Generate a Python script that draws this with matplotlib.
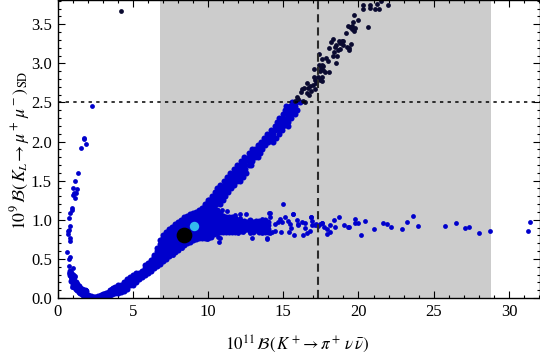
import matplotlib
matplotlib.use("Agg")
import matplotlib.pyplot as plt
from matplotlib.ticker import MultipleLocator, FormatStrFormatter

plt.rcParams['font.family'] = ['Liberation Serif', 'DejaVu Serif']
plt.rcParams['mathtext.fontset'] = 'stix'

# scattered points on the left arm of the curve
arm_x = [2.29,1.76,1.76,1.54,1.89,1.36,1.16,1.03,1.30,1.10,1.20,1.03,1.16,0.96,0.94,0.83,0.76,0.83,0.76,0.68,0.70,0.83,0.83,0.63,0.81,0.76,0.76,1.03,0.81,0.76,0.83,0.88,0.94,1.16,1.05,1.16,0.99,1.27,1.38,1.89]
arm_y = [2.455,2.05,2.03,1.92,1.97,1.60,1.50,1.41,1.39,1.34,1.34,1.32,1.28,1.15,1.125,1.09,1.02,0.92,0.87,0.86,0.82,0.77,0.73,0.59,0.52,0.50,0.41,0.38,0.34,0.315,0.29,0.25,0.21,0.28,0.25,0.21,0.144,0.144,0.10,0.10]

# dense band read as columns: x value and the y values found at it
col_x = [0.8,0.9,1.0,1.1,1.2,1.3,1.4,1.5,1.6,1.7,1.8,1.9,2.0,2.1,2.2,2.3,2.4,2.5,2.6,2.7,2.8,2.9,3.0,3.1,3.2,3.3,3.4,3.5,3.6,3.7,3.8,3.9,4.0,4.2,4.4,4.6,4.8,5.0,5.2,5.4,5.6,5.8,6.0,6.2,6.4,6.6,6.8]
col_y = [[.30,.34],[.22,.28,.32],[.16,.20,.25,.30],[.14,.18,.22,.27],[.12,.16,.20],[.10,.14,.18],[.08,.12,.15],[.07,.10,.13],[.05,.08,.11],[.04,.07,.10],[.03,.06,.10],[.02,.05,.09],[.01,.04],[.005,.03],[0,.02],[0,.015],[0,.01],[0,.01],[0,.015],[.005,.02],[.01,.03],[.015,.04],[.02,.05],[.02,.05],[.03,.06],[.03,.06],[.04,.08],[.04,.07,.10],[.05,.08,.12],[.06,.10,.13],[.07,.11,.14],[.08,.12],[.06,.10,.13,.16],[.08,.12,.16],[.09,.14,.18,.21],[.12,.17,.21,.24],[.16,.20,.24,.27],[.17,.22,.26,.30],[.20,.25,.29,.32],[.24,.28,.32],[.27,.31,.35],[.30,.34,.38,.42],[.32,.37,.41,.45],[.35,.40,.44,.48],[.38,.42,.47,.52,.55],[.41,.45,.50,.55,.60,.64],[.44,.49,.54,.59,.64,.69,.74]]

wide_x = [7.0,7.2,7.4,7.6,7.8,8.0,8.2,8.4,8.6,8.8,9.0,9.2,9.4,9.6,9.8,10.0,10.2,10.4,10.6,10.8,11.0,11.2,11.4,11.6,11.8]
wide_y = [
 [.47,.52,.57,.62,.67,.72,.77,.80],
 [.50,.55,.60,.65,.70,.75,.80,.85],
 [.54,.59,.64,.69,.74,.79,.84,.88],
 [.56,.62,.67,.72,.77,.82,.87,.91],
 [.59,.64,.69,.74,.79,.84,.89,.94],
 [.62,.67,.72,.77,.82,.87,.92,.97],
 [.65,.70,.75,.80,.85,.90,.95,1.0],
 [.68,.73,.78,.83,.88,.93,.98,1.03],
 [.70,.75,.80,.85,.90,.95,1.0,1.05],
 [.72,.77,.82,.87,.92,.97,1.02,1.07],
 [.74,.79,.84,.89,.94,.99,1.04,1.09],
 [.75,.80,.85,.90,.95,1.0,1.05,1.10],
 [.77,.82,.87,.92,.97,1.02,1.07,1.12],
 [.77,.82,.87,.92,.97,1.02,1.07,1.12,1.15],
 [.77,.82,.87,.92,.97,1.02,1.07,1.12,1.17,1.20],
 [.77,.82,.87,.92,.97,1.02,1.07,1.12,1.17,1.22,1.25],
 [.78,.83,.88,.93,.98,1.03,1.08,1.13,1.18],
 [.82,.87,.92,.97,1.02,1.07,1.12,1.16],
 [.83,.88,.93,.98,1.03,1.08,1.12],
 [.84,.89,.94,.99,1.04,1.09],
 [.85,.90,.95,1.0,1.05],
 [.85,.90,.95,1.0,1.04],
 [.85,.90,.95,1.0,1.03],
 [.85,.90,.95,1.0,1.03],
 [.85,.90,.95,1.0,1.02]]

# upper branch read as rows: y value and the x values found at it
row_y = [1.20,1.25,1.30,1.35,1.40,1.45,1.50,1.55,1.60,1.65,1.70,1.75,1.80,1.85,1.90,1.95,2.00,2.05,2.10,2.15,2.20,2.25,2.30,2.35,2.40,2.45,2.50]
row_x = [[9.9,10.2,10.5,10.8],[10.1,10.4,10.7,11.0],[10.3,10.6,10.9,11.15],[10.45,10.75,11.05,11.35],[10.6,10.9,11.2,11.5],[10.8,11.1,11.4,11.75],[11.05,11.3,11.6,11.95,12.15],[11.25,11.5,11.8,12.1,12.35],[11.45,11.7,12.0,12.3,12.5],[11.7,11.95,12.2,12.45],[11.95,12.15,12.4,12.7,12.85],[12.2,12.45,12.7,12.95],[12.4,12.7,12.9,13.1,13.35],[12.7,12.95,13.2,13.45],[12.9,13.15,13.4,13.6],[13.3,13.55,13.8],[13.5,13.75,14.0,14.3],[13.7,13.95,14.2,14.5],[13.9,14.1,14.35,14.7],[14.2,14.45,14.7,14.95],[14.45,14.7,15.0,15.3],[14.6,14.85,15.1,15.35],[14.75,15.0,15.3,15.5],[15.0,15.25,15.5,15.8],[15.1,15.35,15.6,15.9],[15.2,15.45,15.75],[15.6,15.85,16.1]]

# horizontal branch, sparser part
flat_x = [12.0,12.2,12.4,12.6,12.8,13.0,13.2,13.4,13.6,13.8,14.0]
flat_y = [[.88,.92,.96,1.0],[.86,.90,.94,.98],[.87,.91,.95,.99],[.88,.93,.97],[.86,.90,.95,1.0],[.85,.89,.93,.97],[.87,.92,.98],[.84,.90,.94,.99],[.86,.91,.96],[.85,.90,.95,1.0],[.84,.88,.93,.97]]

# outliers around the branching
edge_x = [10.9,11.28,11.8,12.13,12.52,10.8,12.13,13.57,14.07,10.64,10.8,10.7,9.91,12.0,12.35,12.8,12.9,13.23,13.9,13.57,8.25,7.7]
edge_y = [1.125,1.11,1.06,1.07,1.07,1.07,1.02,1.01,1.09,.78,.765,.72,.76,.83,.85,.83,.77,.87,.76,.83,.635,.55]

# isolated points along the horizontal tail
tail_x = [14.96,14.12,14.12,15.63,15.12,14.79,14.63,14.90,14.45,14.0,15.34,15.89,16.0,16.45,16.85,16.9,17.11,17.55,16.0,15.45,15.52,15.38,15.74,16.29,16.56,16.78,16.45,14.83,14.23,14.12,13.9,14.45,16.23,15.65,16.84,16.93,17.18,17.31,17.44,17.6,17.71,17.93,18.11,18.11,17.91,18.44,18.37,18.70,19.77,19.75,19.97,20.43,19.04,19.28,19.39,20.14,21.03,21.63,21.89,22.16,22.89,23.22,23.62,23.95,25.75,26.48,27.08,27.34,28.0,28.74,31.26,31.4]
tail_y = [1.20,1.09,1.03,1.07,1.04,1.01,.97,.97,.94,.95,.98,.997,.95,.955,1.03,.985,.93,.955,.93,.94,.89,.84,.80,.81,.83,.86,.90,.84,.85,.83,.77,.86,.976,1.07,1.04,.93,.95,.92,.95,.96,.91,.88,.93,.84,.82,.91,1.0,1.03,1.01,.96,.96,.98,.93,.91,.91,.81,.88,.96,.95,.91,.88,.97,1.05,.92,.92,.96,.895,.91,.83,.86,.86,.97]

# points above the dotted line
dark_x = [4.2,20.28,20.28,20.77,20.77,21.10,21.36,21.25,21.96,21.47,19.70,19.66,19.95,19.30,19.44,19.57,19.77,19.70,19.17,20.63,19.55,18.33,18.17,18.68,18.88,18.99,18.77,18.95,19.50,19.22,19.35,19.35,18.04,18.51,18.44,18.77,18.66,18.37,18.29,18.55,18.51,17.35,17.58,17.84,17.95,17.04,17.40,17.55,17.67,17.49,17.67,17.44,17.78,18.04,17.04,17.11,17.33,17.55,17.44,17.60,17.18,17.00,16.56,16.78,16.23,16.38,16.67,16.82,17.11,16.16,16.56,16.71,15.94,16.00,15.78,16.29,16.45]
dark_y = [3.67,3.75,3.69,3.75,3.71,3.70,3.70,3.76,3.75,3.80,3.62,3.53,3.55,3.48,3.46,3.44,3.45,3.41,3.39,3.47,3.48,3.31,3.27,3.29,3.29,3.28,3.26,3.24,3.25,3.21,3.19,3.17,3.20,3.24,3.21,3.18,3.17,3.14,3.09,3.09,3.01,3.12,3.06,3.07,3.03,2.93,2.98,2.98,2.96,2.94,2.91,2.90,2.89,2.89,2.82,2.79,2.83,2.83,2.79,2.77,2.75,2.72,2.75,2.71,2.67,2.68,2.68,2.65,2.67,2.63,2.62,2.60,2.57,2.54,2.52,2.52,2.50]

sm_point = (8.43, 0.805)
bench_point = (9.07, 0.92)
band_range = (6.81, 28.8)
v_line = 17.3
h_line = 2.5

dense_x, dense_y = [], []
for xs, ys in ((col_x, col_y), (wide_x, wide_y), (flat_x, flat_y)):
    for x, column in zip(xs, ys):
        dense_x += [x] * len(column)
        dense_y += column
for y, row in zip(row_y, row_x):
    dense_x += row
    dense_y += [y] * len(row)

fig = plt.figure(figsize=(5.4, 3.55), dpi=100)
ax = fig.add_axes([57.5/540, 57/355, 482/540, 298/355])
ax.set_xlim(0, 32.03)
ax.set_ylim(0, 3.81)

ax.axvspan(*band_range, color='#cccccc', lw=0, zorder=1)
ax.scatter(dense_x, dense_y, s=19, c='#0000cc', lw=0, zorder=2)
ax.scatter(arm_x + edge_x + tail_x, arm_y + edge_y + tail_y, s=12, c='#0000cc', lw=0, zorder=2)
ax.scatter(dark_x, dark_y, s=12, c='#0a0a30', lw=0, zorder=2)
ax.scatter(*bench_point, s=46, c='#33bbee', lw=0, zorder=4)
ax.scatter(*sm_point, s=128, c='black', lw=0, zorder=4)
ax.axvline(v_line, color='#2a2a2a', lw=1.5, dashes=(3.9, 2.4), zorder=3)
ax.axhline(h_line, color='black', lw=1.1, dashes=(2.2, 2.8), zorder=3)

ax.xaxis.set_major_locator(MultipleLocator(5))
ax.xaxis.set_minor_locator(MultipleLocator(1))
ax.yaxis.set_major_locator(MultipleLocator(0.5))
ax.yaxis.set_minor_locator(MultipleLocator(0.1))
ax.yaxis.set_major_formatter(FormatStrFormatter('%.1f'))
ax.tick_params(which='both', direction='in', top=True, right=True, width=0.8, color='black', labelsize=12, zorder=5)
ax.tick_params(which='major', length=5, pad=4)
ax.tick_params(which='minor', length=2.5)
for s in ax.spines.values():
    s.set_linewidth(1.0)
    s.set_zorder(6)

fig.text(297/540, 1-344/355, r'$10^{11}\,\mathcal{B}(\,K^+\!\rightarrow\pi^+\,\nu\,\bar{\nu})$',
         ha='center', va='center', fontsize=12.2)
fig.text(20/540, 1-150/355, r'$10^{9}\,\mathcal{B}(\,K_L\!\rightarrow\mu^+\,\mu^-)_{\mathrm{SD}}$',
         ha='center', va='center', rotation=90, fontsize=12.8)

fig.savefig('out.png', dpi=100)
